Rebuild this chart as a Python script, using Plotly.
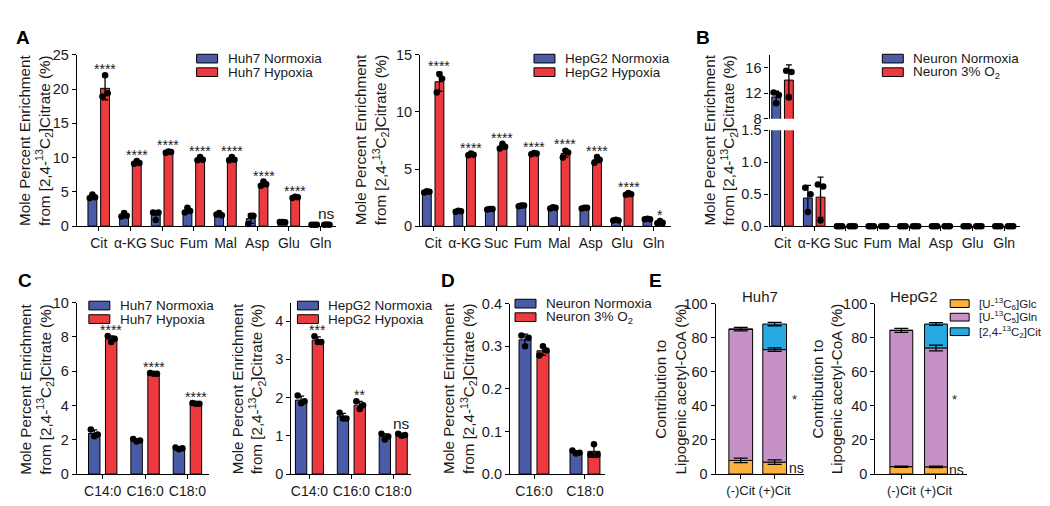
import numpy as np
import plotly.graph_objects as go

W, H = 1050, 506
BLUE = "#4a5ca8"
RED = "#ec3a3f"
ORANGE = "#fbb040"
PURPLE = "#c692c5"
CYAN = "#27aae1"
INK = "#1a1a1a"
FONT = "Liberation Sans, Arial, sans-serif"

# ---- data (replicate points, 3 per category) ----
mets = ["Cit", "α-KG", "Suc", "Fum", "Mal", "Asp", "Glu", "Gln"]
fatty = ["C14:0", "C16:0", "C18:0"]
fatty_d = ["C16:0", "C18:0"]

huh7_norm = [[4.1, 4.6, 4.2], [1.4, 1.9, 1.5], [2.0, 0.9, 2.0], [2.0, 2.7, 2.2],
             [1.7, 1.9, 1.6], [0.3, 1.5, 1.5], [0.6, 0.6, 0.55], [0.2, 0.2, 0.2]]
huh7_hyp = [[18.9, 22.0, 19.4], [9.1, 9.5, 9.2], [10.7, 10.9, 10.8], [9.6, 10.1, 9.7],
            [9.6, 10.1, 9.7], [5.9, 6.5, 6.1], [4.1, 4.3, 4.2], [0.2, 0.25, 0.2]]
huh7_sig = ["****"] * 7 + ["ns"]

hepg2_norm = [[2.95, 3.05, 3.0], [1.25, 1.35, 1.3], [1.45, 1.5, 1.5], [1.75, 1.8, 1.8],
              [1.55, 1.65, 1.6], [1.55, 1.6, 1.6], [0.5, 0.55, 0.5], [0.6, 0.65, 0.6]]
hepg2_hyp = [[11.7, 13.3, 12.9], [6.2, 6.35, 6.25], [6.8, 7.2, 6.95], [6.3, 6.4, 6.35],
             [6.0, 6.6, 6.45], [5.55, 6.05, 5.8], [2.75, 2.9, 2.8], [0.25, 0.45, 0.3]]
hepg2_sig = ["****"] * 7 + ["*"]

neuron_norm = [[12.1, 10.4, 11.7], [0.6, 0.22, 0.5]] + [[0, 0, 0]] * 6
neuron_hyp = [[15.5, 11.3, 15.3], [0.65, 0.09, 0.62]] + [[0, 0, 0]] * 6

huh7_fa_norm = [[2.6, 2.2, 2.3], [2.05, 1.9, 1.95], [1.55, 1.45, 1.5]]
huh7_fa_hyp = [[8.05, 7.7, 7.9], [5.9, 5.85, 5.85], [4.15, 4.1, 4.1]]
huh7_fa_sig = ["****", "****", "****"]
hepg2_fa_norm = [[2.05, 1.85, 1.9], [1.6, 1.45, 1.45], [1.05, 0.9, 0.98]]
hepg2_fa_hyp = [[3.6, 3.45, 3.45], [1.9, 1.7, 1.8], [1.05, 1.0, 1.02]]
hepg2_fa_sig = ["***", "**", "ns"]

neuron_fa_norm = [[0.325, 0.3, 0.32], [0.055, 0.048, 0.05]]
neuron_fa_hyp = [[0.278, 0.3, 0.29], [0.045, 0.07, 0.045]]

# panel E: contribution to lipogenic acetyl-CoA (%), mean and error per segment
e_cats = ["(-)Cit", "(+)Cit"]
e_huh7_glc, e_huh7_glc_err = [8.0, 7.0], [1.3, 1.3]
e_huh7_gln, e_huh7_gln_err = [77.0, 66.0], [1.0, 1.0]
e_huh7_cit, e_huh7_cit_err = [0.0, 15.0], [0.0, 1.0]
e_hepg2_glc, e_hepg2_glc_err = [4.3, 4.2], [0.4, 0.4]
e_hepg2_gln, e_hepg2_gln_err = [80.0, 69.8], [1.2, 1.7]
e_hepg2_cit, e_hepg2_cit_err = [0.0, 14.0], [0.0, 0.8]

fig = go.Figure()
layout = {}
ann = []


def fx(p):
    return p / W


def fy(p):
    return 1 - p / H


def axes(n, xpx, ypx, xr, yr, tickvals, ticktext, yticks, fmt="", showx=True, xsize=14):
    layout[f"xaxis{n}"] = dict(domain=[fx(xpx[0]), fx(xpx[1])], range=xr, anchor=f"y{n}",
                               tickvals=tickvals, ticktext=ticktext, showline=showx,
                               linecolor="black", linewidth=1.3, ticks="outside" if showx else "",
                               ticklen=4, tickwidth=1.3, tickcolor="black", showgrid=False,
                               zeroline=False, showticklabels=showx, tickangle=0,
                               tickfont=dict(size=xsize, color=INK, family=FONT))
    layout[f"yaxis{n}"] = dict(domain=[fy(ypx[1]), fy(ypx[0])], range=yr, anchor=f"x{n}",
                               tickvals=yticks, tickformat=fmt, showline=True,
                               linecolor="black", linewidth=1.3, ticks="outside",
                               ticklen=4, tickwidth=1.3, tickcolor="black", showgrid=False,
                               zeroline=False, tickfont=dict(size=14.5, color=INK, family=FONT))


def grouped(n, series, off, w, lo=None, hi=None, sig=None):
    xa, ya = f"x{n}", f"y{n}"
    for k, (pts, color) in enumerate(series):
        pts = np.array(pts, float)
        mean = pts.mean(axis=1)
        sd = pts.std(axis=1, ddof=1)
        xs = np.arange(len(pts)) + (off if k else -off)
        fig.add_bar(x=xs, y=mean, width=w, xaxis=xa, yaxis=ya, showlegend=False,
                    marker=dict(color=color, line=dict(color="black", width=1)))
        keep = sd > 0
        if lo is not None:
            keep &= (mean >= lo) & (mean <= hi)
        fig.add_scatter(x=xs[keep], y=mean[keep], mode="markers", xaxis=xa, yaxis=ya,
                        marker=dict(size=1, opacity=0), showlegend=False, cliponaxis=False,
                        error_y=dict(type="data", array=sd[keep], color="black",
                                     thickness=1.3, width=3))
        jit = np.array([-0.3, 0.0, 0.3]) * w
        px_ = (xs[:, None] + jit[None, :]).ravel()
        py_ = pts.ravel()
        if lo is not None:
            m = (py_ >= lo) & (py_ <= hi)
            px_, py_ = px_[m], py_[m]
        fig.add_scatter(x=px_, y=py_, mode="markers", xaxis=xa, yaxis=ya, showlegend=False,
                        cliponaxis=False, marker=dict(color="black", size=6.5))
        if sig is not None and k == 1:
            top = np.maximum(mean + sd, pts.max(axis=1))
            for i, s in enumerate(sig):
                big = s == "ns"
                ann.append(dict(x=xs[i], y=top[i], xref=xa, yref=ya, text=s, showarrow=False,
                                xanchor="center", yanchor="bottom", yshift=0 if big else -4,
                                font=dict(size=15.5 if big else 14, color=INK, family=FONT)))


def legend(x0, ys, items, bw=21, bh=9, size=13.5):
    for y, (txt, color) in zip(ys, items):
        layout.setdefault("shapes", []).append(
            dict(type="rect", xref="paper", yref="paper", x0=fx(x0), x1=fx(x0 + bw),
                 y0=fy(y + bh / 2), y1=fy(y - bh / 2), fillcolor=color,
                 line=dict(color="black", width=1)))
        ann.append(dict(x=fx(x0 + bw + 8), y=fy(y), xref="paper", yref="paper", text=txt,
                        showarrow=False, xanchor="left", yanchor="middle",
                        font=dict(size=size, color=INK, family=FONT)))


def ytitle(x, y, txt):
    ann.append(dict(x=fx(x), y=fy(y), xref="paper", yref="paper", text=txt, textangle=-90,
                    showarrow=False, xanchor="center", yanchor="middle",
                    font=dict(size=15.2, color=INK, family=FONT)))


def letter(x, y, t):
    ann.append(dict(x=fx(x), y=fy(y), xref="paper", yref="paper", text=f"<b>{t}</b>",
                    showarrow=False, xanchor="center", yanchor="middle",
                    font=dict(size=19, color="black", family=FONT)))


MPE = "Mole Percent Enrichment<br>from [2,4-<sup>13</sup>C<sub>2</sub>]Citrate (%)"
idx8 = list(range(8))

# A left
axes(1, (68, 328), (40, 217), [-0.69, 7.5], [0, 25], idx8, mets, [0, 5, 10, 15, 20, 25])
grouped(1, [(huh7_norm, BLUE), (huh7_hyp, RED)], 0.2, 0.28, sig=huh7_sig)
legend(188, [44, 58], [("Huh7 Normoxia", BLUE), ("Huh7 Hypoxia", RED)])
ytitle(27, 128, MPE)
letter(14, 22, "A")

# A right
axes(2, (412, 663), (40, 217), [-0.41, 7.54], [0, 15], idx8, mets, [0, 5, 10, 15])
grouped(2, [(hepg2_norm, BLUE), (hepg2_hyp, RED)], 0.2, 0.28, sig=hepg2_sig)
legend(526, [44, 58], [("HepG2 Normoxia", BLUE), ("HepG2 Hypoxia", RED)])
ytitle(364, 128, MPE)

# B (broken axis)
axes(3, (762, 1013), (40, 106), [-0.41, 7.5], [8, 18], idx8, mets, [8, 12, 16], showx=False)
axes(4, (762, 1013), (118, 217), [-0.41, 7.5], [0, 1.5], idx8, mets, [0, 0.5, 1.0, 1.5], ".1f")
grouped(3, [(neuron_norm, BLUE), (neuron_hyp, RED)], 0.2, 0.28, lo=8, hi=18)
grouped(4, [(neuron_norm, BLUE), (neuron_hyp, RED)], 0.2, 0.28, lo=0, hi=1.5)
legend(875, [44, 58], [("Neuron Normoxia", BLUE), ("Neuron 3% O<sub>2</sub>", RED)])
ytitle(713, 128, MPE)
letter(695, 22, "B")

# C left
axes(5, (68, 200), (296, 473), [-0.61, 2.5], [0, 10], [0, 1, 2], fatty, [0, 2, 4, 6, 8, 10])
grouped(5, [(huh7_fa_norm, BLUE), (huh7_fa_hyp, RED)], 0.2, 0.27, sig=huh7_fa_sig)
legend(80, [299, 313], [("Huh7 Normoxia", BLUE), ("Huh7 Hypoxia", RED)])
ytitle(28, 385, MPE)
letter(16, 273, "C")

# C right
axes(6, (283, 403), (296, 473), [-0.43, 2.43], [0, 4.48], [0, 1, 2], fatty, [0, 1, 2, 3, 4])
grouped(6, [(hepg2_fa_norm, BLUE), (hepg2_fa_hyp, RED)], 0.2, 0.27, sig=hepg2_fa_sig)
legend(289, [299, 313], [("HepG2 Normoxia", BLUE), ("HepG2 Hypoxia", RED)])
ytitle(240, 385, MPE)

# D
axes(7, (502, 597), (297, 473), [-0.47, 1.39], [0, 0.4], [0, 1], fatty_d,
     [0, 0.1, 0.2, 0.3, 0.4], ".1f")
grouped(7, [(neuron_fa_norm, BLUE), (neuron_fa_hyp, RED)], 0.176, 0.235)
legend(507, [297, 311], [("Neuron Normoxia", BLUE), ("Neuron 3% O<sub>2</sub>", RED)])
ytitle(452, 385, MPE)
letter(440, 273, "D")


# E stacked
def stacked(n, w, segs, title, tx):
    xa, ya = f"x{n}", f"y{n}"
    base = np.zeros(2)
    for vals, errs, color in segs:
        vals = np.array(vals, float)
        errs = np.array(errs, float)
        fig.add_bar(x=[0, 1], y=vals, base=base, width=w, xaxis=xa, yaxis=ya, showlegend=False,
                    marker=dict(color=color, line=dict(color="black", width=1)))
        base = base + vals
        keep = vals > 0
        fig.add_scatter(x=np.arange(2)[keep], y=base[keep], mode="markers", xaxis=xa, yaxis=ya,
                        marker=dict(size=1, opacity=0), showlegend=False, cliponaxis=False,
                        error_y=dict(type="data", array=errs[keep], color="black",
                                     thickness=1.3, width=7))
    glc = np.array(segs[0][0], float)
    ann.append(dict(x=1 + w / 2, y=base[1] / 2, xref=xa, yref=ya, text="*", showarrow=False,
                    xanchor="left", yanchor="middle", xshift=3,
                    font=dict(size=13, color=INK, family=FONT)))
    ann.append(dict(x=1 + w / 2, y=glc[1] / 2, xref=xa, yref=ya, text="ns", showarrow=False,
                    xanchor="left", yanchor="middle", xshift=0,
                    font=dict(size=14, color=INK, family=FONT)))
    ann.append(dict(x=fx(tx), y=fy(290), xref="paper", yref="paper", text=title,
                    showarrow=False, xanchor="center", yanchor="middle",
                    font=dict(size=15, color=INK, family=FONT)))


axes(8, (708, 797), (297, 473), [-0.74, 1.88], [0, 100], [0, 1], e_cats,
     [0, 20, 40, 60, 80, 100], xsize=13)
stacked(8, 0.7, [(e_huh7_glc, e_huh7_glc_err, ORANGE), (e_huh7_gln, e_huh7_gln_err, PURPLE),
                 (e_huh7_cit, e_huh7_cit_err, CYAN)], "Huh7", 752)
axes(9, (868, 960), (297, 473), [-0.75, 1.9], [0, 100], [0, 1], e_cats,
     [0, 20, 40, 60, 80, 100], xsize=13)
stacked(9, 0.66, [(e_hepg2_glc, e_hepg2_glc_err, ORANGE), (e_hepg2_gln, e_hepg2_gln_err, PURPLE),
                  (e_hepg2_cit, e_hepg2_cit_err, CYAN)], "HepG2", 907)
legend(943, [297, 311, 326], [("[U-<sup>13</sup>C<sub>6</sub>]Glc", ORANGE),
                              ("[U-<sup>13</sup>C<sub>5</sub>]Gln", PURPLE),
                              ("[2,4-<sup>13</sup>C<sub>2</sub>]Cit", CYAN)],
       bw=19, bh=8, size=11.5)
CONTRIB = "Contribution to<br>Lipogenic acetyl-CoA (%)"
ytitle(663, 385, CONTRIB)
ytitle(820, 385, CONTRIB)
letter(648, 273, "E")

fig.update_layout(width=W, height=H, margin=dict(l=0, r=0, t=0, b=0), autosize=False,
                  barmode="overlay", plot_bgcolor="white", paper_bgcolor="white",
                  font=dict(family=FONT, color=INK), annotations=ann, showlegend=False,
                  **layout)
fig.write_html("out.html")
